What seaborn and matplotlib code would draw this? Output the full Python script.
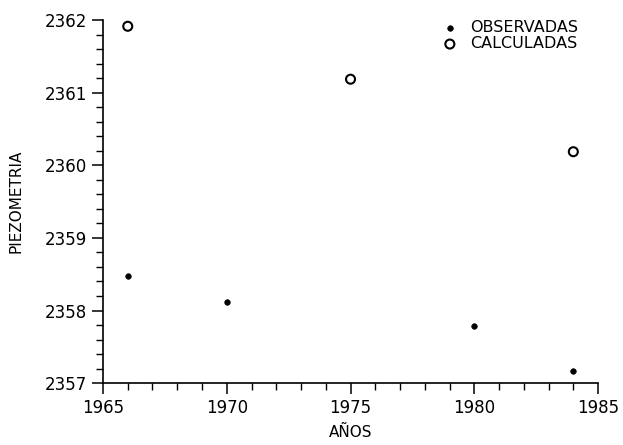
import pandas as pd
import matplotlib.pyplot as plt
from matplotlib.ticker import MultipleLocator
import seaborn as sns

# --- DATOS ---
anios_obs = [1966, 1970, 1980, 1984]
piezo_obs = [2358.48, 2358.12, 2357.79, 2357.17]

anios_calc = [1966, 1975, 1984]
piezo_calc = [2361.92, 2361.19, 2360.19]

x_ticks = [1965, 1970, 1975, 1980, 1985]
y_ticks = [2357, 2358, 2359, 2360, 2361, 2362]

df_obs = pd.DataFrame({"anio": anios_obs, "piezo": piezo_obs})
df_calc = pd.DataFrame({"anio": anios_calc, "piezo": piezo_calc})

sns.set_theme(style="ticks")
plt.rcParams["font.family"] = ["DejaVu Sans"]

fig = plt.figure(figsize=(6.23, 4.45), dpi=100)
ax = fig.add_axes([0.1653, 0.1393, 0.7947, 0.8147])

sns.scatterplot(data=df_obs, x="anio", y="piezo", ax=ax, marker="o", s=16,
                color="black", edgecolor="black", linewidth=0.5, label="OBSERVADAS")
sns.scatterplot(data=df_calc, x="anio", y="piezo", ax=ax, marker="o", s=42,
                facecolor="none", edgecolor="black", linewidth=1.5, label="CALCULADAS")

ax.set_xlim(1965, 1985)
ax.set_ylim(2357, 2362)
ax.set_xticks(x_ticks)
ax.set_yticks(y_ticks)
ax.xaxis.set_minor_locator(MultipleLocator(1))
ax.yaxis.set_minor_locator(MultipleLocator(0.2))
ax.tick_params(which="major", direction="out", length=8, width=1.1, color="black",
               labelsize=12, labelcolor="black")
ax.tick_params(which="minor", direction="out", length=5, width=1.0, color="black")

sns.despine(ax=ax)
for side in ["left", "bottom"]:
    ax.spines[side].set_linewidth(1.2)
    ax.spines[side].set_color("black")

ax.set_xlabel("AÑOS", fontsize=11, color="black", labelpad=6)
ax.set_ylabel("PIEZOMETRIA", fontsize=11, color="black", labelpad=15)

ax.legend(frameon=False, loc="upper left", bbox_to_anchor=(0.699, 0.972),
          bbox_transform=fig.transFigure, handlelength=0.8, handletextpad=0.9,
          borderpad=0, labelspacing=0.05, fontsize=11.5, labelcolor="black")

fig.savefig("out.png", dpi=100)
